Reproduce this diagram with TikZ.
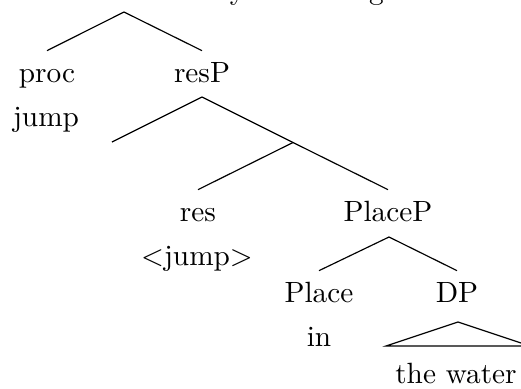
\documentclass[tikz,border=0pt]{standalone}
\begin{document}
\begin{tikzpicture}[x=0.3413pt,y=-0.3413pt,
  lab/.style={inner xsep=0pt, inner ysep=3.5pt, text height=7pt, text depth=2pt, anchor=base},
  word/.style={inner sep=0pt, anchor=base},
  branch/.style={line width=0.4pt}]
\useasboundingbox (0,0) rectangle (521,388);
\node[word, anchor=base west] (top) at (138,-1) {The boy is running};
% level 1
\coordinate (root) at (124,12);
\node[lab] (proc) at (47,82) {proc};
\node[lab] (resP) at (202,82) {resP};
\node[word] (jump) at (46,126) {jump};
\draw[branch] (root) -- (proc.north);
\draw[branch] (root) -- (resP.north);
% level 2
\coordinate (resPa) at (202,97);
\coordinate (empty) at (112,142);
\coordinate (resbar) at (293,142.5);
\node[lab] (res) at (198,221) {res};
\node[lab] (PlaceP) at (388,221) {PlaceP};
\node[word] (resw) at (197,265) {$<$jump$>$};
\draw[branch] (resPa) -- (empty);
\draw[branch] (resPa) -- (resbar);
\draw[branch] (resbar) -- (res.north);
\draw[branch] (resbar) -- (PlaceP.north);
% level 3
\coordinate (PlacePa) at (389,237);
\node[lab] (Place) at (319,302) {Place};
\node[lab] (DP) at (457,302) {DP};
\node[word] (in) at (319,346) {in};
\draw[branch] (PlacePa) -- (Place.north);
\draw[branch] (PlacePa) -- (DP.north);
% triangle
\coordinate (DPa) at (458,322);
\coordinate (triL) at (386,346);
\coordinate (triR) at (530,346);
\draw[branch] (DPa) -- (triL) -- (triR) -- cycle;
\node[word] (water) at (456,383) {the water};
\end{tikzpicture}
\end{document}
